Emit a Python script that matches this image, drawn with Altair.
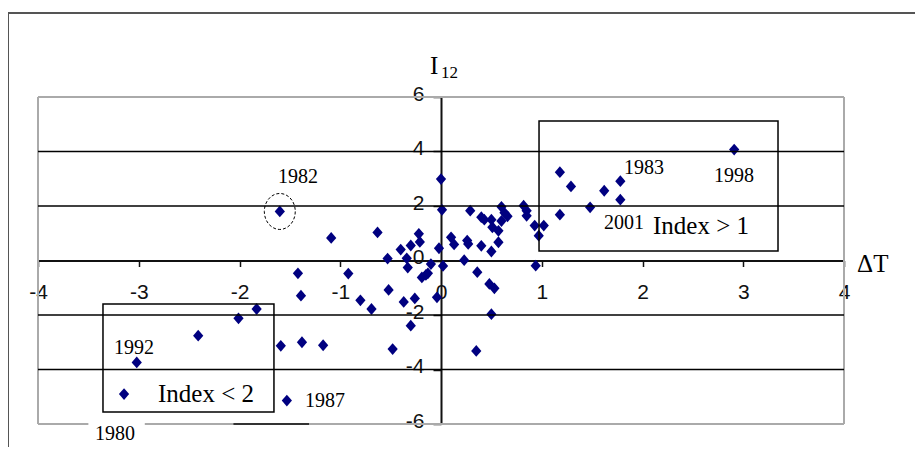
import altair as alt
import pandas as pd

# ---- data ----
dT = [0.00, 0.01, -1.60, -1.09, -0.63, -0.22, -0.21, -0.30, -0.40, -0.53,
      -0.02, 0.10, 0.13, -0.34, -0.33, -0.10, 0.02, -0.92, -0.19, -0.15,
      -0.13, 0.23, 0.50, 0.36, 0.48, 0.53, -0.52, -0.80, -0.69, -0.37,
      -0.26, -0.04, 0.50, -0.30, -1.17, -0.48, 0.35, -1.42, -1.39, -1.83,
      -2.01, -2.41, -3.02, -1.59, -1.38, -1.53, 0.29, 0.40, 0.43, 0.50,
      0.60, 0.63, 0.66, 0.60, 0.51, 0.57, 0.82, 0.85, 0.85, 0.93,
      1.02, 0.97, 1.18, 0.26, 0.27, 0.40, 0.57, 0.94, 1.18, 1.29,
      1.62, 1.78, 1.78, 1.48, 2.91]
I12 = [2.99, 1.86, 1.80, 0.83, 1.03, 0.98, 0.68, 0.55, 0.40, 0.07,
       0.45, 0.85, 0.59, 0.08, -0.26, -0.13, -0.20, -0.48, -0.62, -0.53,
       -0.47, 0.01, 0.33, -0.43, -0.86, -1.02, -1.08, -1.46, -1.78, -1.52,
       -1.39, -1.35, -1.97, -2.39, -3.11, -3.25, -3.32, -0.47, -1.29, -1.78,
       -2.12, -2.76, -3.74, -3.13, -3.00, -5.14, 1.83, 1.59, 1.50, 1.50,
       1.97, 1.75, 1.62, 1.45, 1.22, 1.09, 2.01, 1.83, 1.64, 1.28,
       1.28, 0.91, 1.68, 0.73, 0.61, 0.54, 0.67, -0.19, 3.24, 2.72,
       2.56, 2.91, 2.23, 1.95, 4.07]

x_ticks = [-4, -3, -2, -1, 0, 1, 2, 3, 4]
y_ticks = [-6, -4, -2, 0, 2, 4, 6]
grid_y = [-4, -2, 2, 4]

# year / note labels (left edge, baseline)
note_text = ["1982", "1983", "1998", "2001", "1992", "1987", "1980"]
note_x = [-1.618, 1.816, 2.71, 1.618, -3.246, -1.35, -3.434]
note_y = [2.84, 3.17, 2.88, 1.16, -3.43, -5.38, -6.59]

box_x1 = [0.973, -3.355]
box_x2 = [3.345, -1.658]
box_y1 = [5.12, -1.60]
box_y2 = [0.35, -5.56]
box_text = ["Index > 1", "Index < 2"]
box_text_x = [2.104, -2.809]
box_text_y = [0.97, -5.20]

legend_x = [-3.146]
legend_y = [-4.90]

circle_x = [-1.60]
circle_y = [1.80]

W, H = 806, 327
NAVY = "#000080"
DIAMOND = "M-1,0L0,-1.15L1,0L0,1.15Z"
ELLIPSE = ("M0.86,0C0.86,0.5523,0.475,1,0,1C-0.475,1,-0.86,0.5523,-0.86,0"
           "C-0.86,-0.5523,-0.475,-1,0,-1C0.475,-1,0.86,-0.5523,0.86,0Z")

xs = alt.Scale(domain=[-4, 4], nice=False, zero=False)
ys = alt.Scale(domain=[-6, 6], nice=False, zero=False)

x_axis = alt.Axis(values=x_ticks, offset=-H / 2, tickSize=6, labelPadding=15,
                  labelExpr="datum.value + ''")
y_axis = alt.Axis(values=y_ticks, offset=-W / 2, tickSize=8, labelPadding=9, labelOffset=-3,
                  labelExpr="datum.value + ''")


def X(field):
    return alt.X(field, type="quantitative", scale=xs, axis=x_axis, title=None)


def Y(field):
    return alt.Y(field, type="quantitative", scale=ys, axis=y_axis, title=None)


df = pd.DataFrame({"x": dT, "y": I12})

points = alt.Chart(df).mark_point(
    shape=DIAMOND, filled=True, size=105, color=NAVY, opacity=1
).encode(x=X("x"), y=Y("y"))

# gridlines
grid = alt.Chart(pd.DataFrame({"y": grid_y, "x": [-4] * 4, "x2": [4] * 4})).mark_rule(
    color="black", strokeWidth=1.5
).encode(y=Y("y"), x=X("x"), x2="x2:Q")

# plot border (gray), with gap at the bottom
border_df = pd.DataFrame({
    "x": [-4, 4, -4, -4, -2.94, -2.06],
    "x2": [4, 4, -4, -3.50, 4, -1.31],
    "y": [6, 6, 6, -6, -6, -6],
    "y2": [6, -6, -6, -6, -6, -6],
    "c": ["#aaaaaa", "#aaaaaa", "#aaaaaa", "#aaaaaa", "#aaaaaa", "#333333"],
})
border = alt.Chart(border_df).mark_rule(strokeWidth=2).encode(
    x=X("x"), x2="x2:Q", y=Y("y"), y2="y2:Q",
    color=alt.Color("c:N", scale=None),
)

# outer frame (pixel positions)
one = pd.DataFrame({"k": [1]})
frame = alt.Chart(one).mark_rule(color="#555555", strokeWidth=2).encode(
    x=alt.value(-30), x2=alt.value(880), y=alt.value(-84)
)
frame2 = alt.Chart(one).mark_rule(color="#555555", strokeWidth=2).encode(
    x=alt.value(-30), y=alt.value(-84), y2=alt.value(360)
)

# boxes
boxes = alt.Chart(pd.DataFrame({"x": box_x1, "x2": box_x2, "y": box_y1, "y2": box_y2})).mark_rect(
    fillOpacity=0, stroke="black", strokeWidth=1.5
).encode(x=X("x"), x2="x2:Q", y=Y("y"), y2="y2:Q")

legend_pt = alt.Chart(pd.DataFrame({"x": legend_x, "y": legend_y})).mark_point(
    shape=DIAMOND, filled=True, size=105, color=NAVY, opacity=1
).encode(x=X("x"), y=Y("y"))

ring = alt.Chart(pd.DataFrame({"x": circle_x, "y": circle_y})).mark_point(
    shape=ELLIPSE, filled=False, size=1296, color="black", strokeWidth=1, strokeDash=[3, 2], opacity=1
).encode(x=X("x"), y=Y("y"))

notes = alt.Chart(pd.DataFrame({"t": note_text, "x": note_x, "y": note_y})).mark_text(
    font="Liberation Serif", fontSize=20, align="left", baseline="alphabetic", color="black"
).encode(x=X("x"), y=Y("y"), text="t:N")

box_notes = alt.Chart(pd.DataFrame({"t": box_text, "x": box_text_x, "y": box_text_y})).mark_text(
    font="Liberation Serif", fontSize=25, align="left", baseline="alphabetic", color="black"
).encode(x=X("x"), y=Y("y"), text="t:N")

titles_df = pd.DataFrame({"t": ["I", "ΔT"], "x": [-0.109, 4.13], "y": [6.84, -0.41]})
titles = alt.Chart(titles_df).mark_text(
    font="Liberation Serif", fontSize=25, align="left", baseline="alphabetic", color="black"
).encode(x=X("x"), y=Y("y"), text="t:N")

sub = alt.Chart(pd.DataFrame({"t": ["12"], "x": [0.0], "y": [6.70]})).mark_text(
    font="Liberation Serif", fontSize=17, align="left", baseline="alphabetic", color="black"
).encode(x=X("x"), y=Y("y"), text="t:N")

chart = alt.layer(
    points, border, grid, boxes, frame, frame2, legend_pt, ring, notes, box_notes, titles, sub
).properties(
    width=W, height=H,
    padding={"left": 30, "top": 89, "right": 71, "bottom": 23},
    autosize=alt.AutoSizeParams(type="none"),
    background="white",
).configure_view(stroke=None).configure_axis(
    grid=False, domainColor="#111111", domainWidth=2,
    tickColor="#111111", tickWidth=1.5, labelFont="Liberation Sans",
    labelFontSize=21, labelColor="#111111", labelFlush=False, labelOverlap=False,
)

chart.save("out.html", embed_options={"renderer": "svg", "actions": False})
